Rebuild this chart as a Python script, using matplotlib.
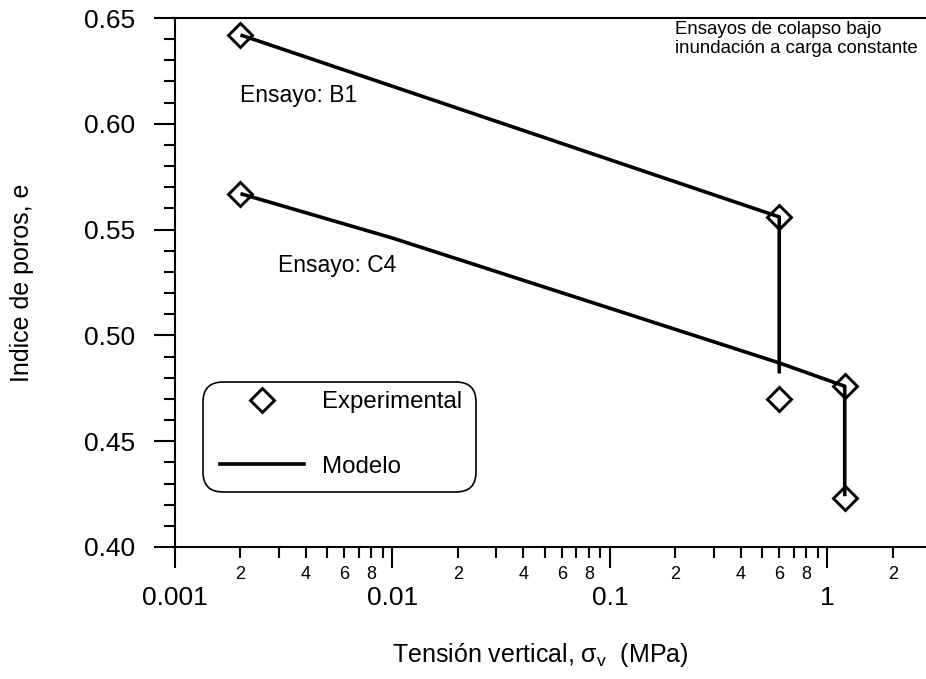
import matplotlib
matplotlib.use("Agg")
import matplotlib.pyplot as plt
from matplotlib.ticker import FixedLocator, NullFormatter
from matplotlib.lines import Line2D
from matplotlib.patches import FancyBboxPatch
from matplotlib.transforms import IdentityTransform

plt.rcParams['font.family'] = ['Liberation Sans', 'DejaVu Sans']
plt.rcParams['mathtext.default'] = 'regular'

# ensayo B1
b1_exp_x = [0.002, 0.6, 0.6]
b1_exp_e = [0.642, 0.556, 0.470]
b1_mod_x = [0.002, 0.6, 0.6]
b1_mod_e = [0.642, 0.556, 0.482]

# ensayo C4
c4_exp_x = [0.002, 1.2, 1.2]
c4_exp_e = [0.567, 0.476, 0.423]
c4_mod_x = [0.002, 0.01, 0.6, 1.2, 1.2]
c4_mod_e = [0.567, 0.546, 0.487, 0.476, 0.424]

major_x = [0.001, 0.01, 0.1, 1]
major_x_labels = ['0.001', '0.01', '0.1', '1']
minor_mult = [2, 3, 4, 5, 6, 7, 8, 9]
minor_shown = {2: '2', 4: '4', 6: '6', 8: '8'}

W, H = 926, 679
fig = plt.figure(figsize=(W / 100, H / 100), dpi=100)
ax = fig.add_axes([175 / W, 1 - 547 / H, (W - 175) / W, 529 / H])

ms = 12
mew = 2.1
for ex, ee, mx, me in [(b1_exp_x, b1_exp_e, b1_mod_x, b1_mod_e),
                       (c4_exp_x, c4_exp_e, c4_mod_x, c4_mod_e)]:
    ax.plot(mx, me, color='black', lw=2.6, solid_capstyle='butt')
    ax.plot(ex, ee, ls='none', marker='D', ms=ms, mfc='none', mec='black', mew=mew)

ax.set_xscale('log')

ax.xaxis.set_major_locator(FixedLocator(major_x))
ax.set_xticklabels(major_x_labels)
minor_pos = []
minor_lab = []
for d in [0.001, 0.01, 0.1, 1]:
    for m in minor_mult:
        minor_pos.append(d * m)
        minor_lab.append(minor_shown.get(m, ''))
ax.set_xticks(minor_pos, minor=True)
ax.set_xticklabels(minor_lab, minor=True)

yt = [0.40, 0.45, 0.50, 0.55, 0.60, 0.65]
ax.set_yticks(yt)
ax.set_yticklabels(['%.2f' % v for v in yt])
ax.set_yticks([0.40 + 0.01 * i for i in range(26)], minor=True)
ax.yaxis.set_minor_formatter(NullFormatter())

# limits after the ticks, otherwise set_xticks widens them
ax.set_xlim(0.001, 10 ** (-3 + (W - 175) / 217.5))
ax.set_ylim(0.40, 0.65)

ax.tick_params(axis='both', which='major', direction='out', length=15, width=1.5, labelsize=19)
ax.tick_params(axis='y', which='major', pad=14)
ax.tick_params(axis='x', which='major', pad=13)
ax.tick_params(axis='y', which='minor', direction='out', length=8, width=1.5)
ax.tick_params(axis='x', which='minor', direction='out', length=8, width=1.5, labelsize=13, pad=6)

ax.spines['right'].set_visible(False)
for s in ['left', 'bottom', 'top']:
    ax.spines[s].set_linewidth(1.5)

ax.set_xlabel('Tensión vertical, $σ_v$  (MPa)', fontsize=18)
ax.set_ylabel('Indice de poros, e', fontsize=18)
ax.xaxis.set_label_coords((540 - 175) / (W - 175), -(641 - 547) / 529)
ax.yaxis.set_label_coords(-(175 - 34) / (W - 175), 0.5)

ax.text(0.002, 0.6103, 'Ensayo: B1', fontsize=16.5, va='baseline', ha='left')
ax.text(0.00296, 0.530, 'Ensayo: C4', fontsize=16.5, va='baseline', ha='left')
ax.text(0.198, 0.6335, 'Ensayos de colapso bajo\ninundación a carga constante',
        fontsize=13.4, va='baseline', ha='left', linespacing=1.15)

handles = [Line2D([], [], ls='none', marker='D', ms=ms, mfc='none', mec='black', mew=mew),
           Line2D([], [], color='black', lw=2.6)]
leg = ax.legend(handles, ['Experimental', 'Modelo'], loc='upper left',
                bbox_to_anchor=((220 - 175) / (W - 175), (547 - 391) / 529),
                borderaxespad=0, fontsize=17.3, handlelength=3.5, handletextpad=0.75,
                labelspacing=1.78, borderpad=0, frameon=False)

# rounded frame of the legend, in pixels
box = FancyBboxPatch((203, H - 492), 273, 110, boxstyle='round,pad=0,rounding_size=20',
                     transform=IdentityTransform(), facecolor='none', edgecolor='black',
                     linewidth=1.2, zorder=5)
fig.patches.append(box)

fig.savefig('out.png', dpi=100)
